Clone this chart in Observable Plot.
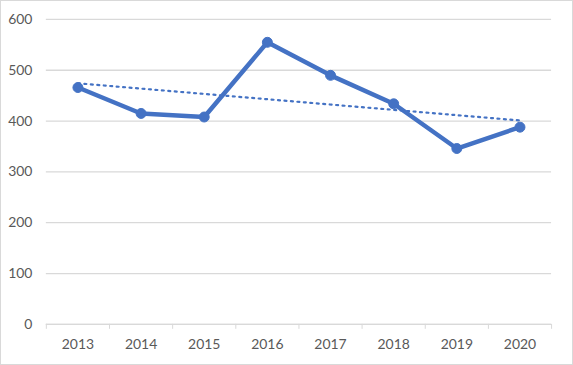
<!DOCTYPE html>
<html>
<head>
<meta charset="utf-8">
<script src="https://cdn.jsdelivr.net/npm/d3@7"></script>
<script src="https://cdn.jsdelivr.net/npm/@observablehq/plot@0.6"></script>
<style>
  html, body { margin: 0; padding: 0; background: #fff; }
  #chart { width: 573px; height: 365px; box-sizing: border-box; border: 1px solid #d9d9d9; position: relative; overflow: hidden; }
  #chart svg { position: absolute; left: -1px; top: -1px; }
</style>
</head>
<body>
<div id="chart"></div>
<script>
const years = [2013, 2014, 2015, 2016, 2017, 2018, 2019, 2020];
const values = [466, 415, 408, 555, 490, 434, 346, 388];
const yTicks = [0, 100, 200, 300, 400, 500, 600];

const data = years.map((year, i) => ({year, value: values[i]}));
const boundaries = [years[0] - 0.5, ...years.map(y => y + 0.5)];
const blue = "#4472C4";

const chart = Plot.plot({
  width: 573,
  height: 365,
  marginLeft: 46,
  marginRight: 20,
  marginTop: 19,
  marginBottom: 40,
  style: {fontFamily: "Lato, 'Open Sans', sans-serif", fontSize: "14px", color: "#595959", background: "transparent"},
  x: {type: "linear", domain: [years[0] - 0.5, years[years.length - 1] + 0.5]},
  y: {domain: [0, 600]},
  marks: [
    Plot.gridY(yTicks, {stroke: "#d9d9d9", strokeOpacity: 1, strokeWidth: 1.3}),
    Plot.ruleY([0], {stroke: "#d9d9d9", strokeWidth: 1.3}),
    Plot.axisY(yTicks, {tickSize: 0, tickPadding: 14, fill: "#595959", fontSize: 14, label: null}),
    Plot.axisX(boundaries, {tickSize: 5, stroke: "#d9d9d9", tickFormat: () => "", label: null}),
    Plot.axisX(years, {tickSize: 0, tickPadding: 15, fill: "#595959", fontSize: 14, tickFormat: d => String(d), label: null}),
    Plot.linearRegressionY(data, {x: "year", y: "value", ci: 0, stroke: blue, strokeWidth: 2.2, strokeDasharray: "2 4.5"}),
    Plot.line(data, {x: "year", y: "value", stroke: blue, strokeWidth: 4.5, strokeLinejoin: "round"}),
    Plot.dot(data, {x: "year", y: "value", r: 5, fill: blue, stroke: blue, strokeWidth: 1})
  ]
});
document.getElementById("chart").appendChild(chart);
</script>
</body>
</html>
